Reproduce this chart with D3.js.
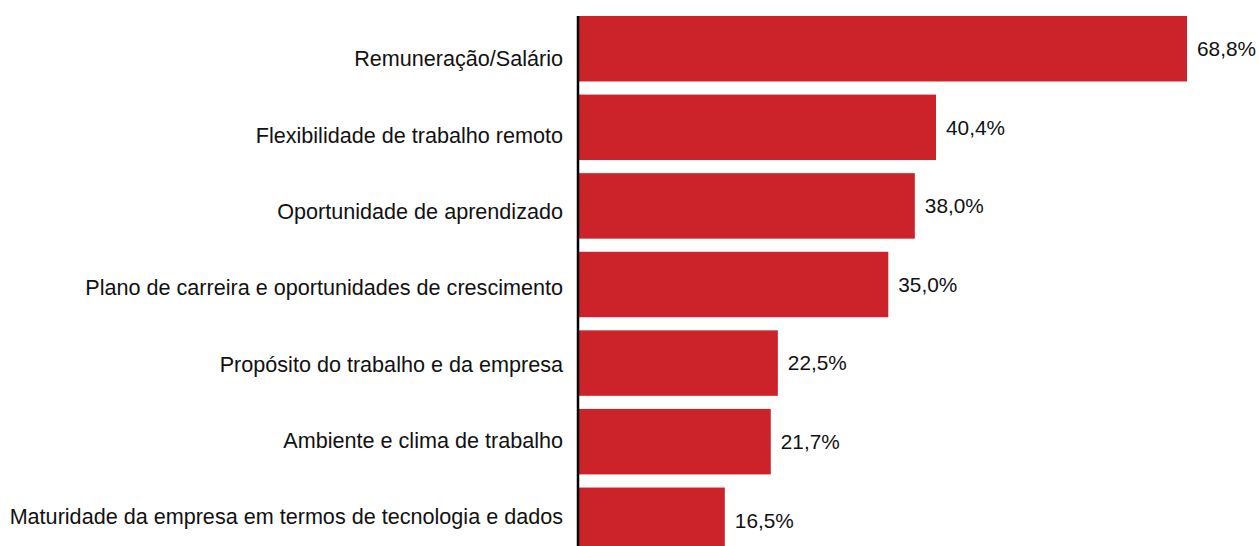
<!DOCTYPE html>
<html>
<head>
<meta charset="utf-8">
<script src="https://cdn.jsdelivr.net/npm/d3@7"></script>
<style>
  html, body { margin: 0; padding: 0; background: #fff; }
  svg { display: block; font-family: "Liberation Sans", Arial, sans-serif; }
</style>
</head>
<body>
<div id="chart"></div>
<script>
// data
const categories = [
  "Remuneração/Salário",
  "Flexibilidade de trabalho remoto",
  "Oportunidade de aprendizado",
  "Plano de carreira e oportunidades de crescimento",
  "Propósito do trabalho e da empresa",
  "Ambiente e clima de trabalho",
  "Maturidade da empresa em termos de tecnologia e dados"
];
const values = [68.8, 40.4, 38.0, 35.0, 22.5, 21.7, 16.5];

const width = 1259, height = 546;
const axisX = 578;
const fontSize = 21.6;

const svg = d3.select("#chart")
  .append("svg")
  .attr("width", width)
  .attr("height", height);

// x scale: 0..68.8% spans roughly 608px
const x = d3.scaleLinear()
  .domain([0, 68.8])
  .range([axisX + 1, 1187]);

const y = d3.scaleBand()
  .domain(categories)
  .range([16, 553])
  .paddingInner(0.167)
  .paddingOuter(0);

// the category labels sit on a slightly tighter spacing than the bars
const yLabel = d3.scalePoint()
  .domain(categories)
  .range([59, 517]);

const rows = categories.map((c, i) => ({ name: c, value: values[i] }));

// bars
svg.selectAll("rect.bar")
  .data(rows)
  .enter()
  .append("rect")
  .attr("class", "bar")
  .attr("x", x(0))
  .attr("y", d => y(d.name))
  .attr("width", d => x(d.value) - x(0))
  .attr("height", y.bandwidth())
  .attr("fill", "#cc2229");

// value labels
const fmt = v => v.toFixed(1).replace(".", ",") + "%";
svg.selectAll("text.val")
  .data(rows)
  .enter()
  .append("text")
  .attr("class", "val")
  .attr("x", d => x(d.value) + 10)
  .attr("y", d => y(d.name) + y.bandwidth() / 2)
  .attr("dy", "0.35em")
  .attr("font-size", 20.8)
  .attr("fill", "#111")
  .text(d => fmt(d.value));

// category labels on the left
const yAxis = svg.append("g")
  .attr("transform", "translate(" + axisX + ",0)")
  .call(d3.axisLeft(yLabel).tickSize(0).tickPadding(15));
yAxis.select(".domain").remove();
yAxis.selectAll("text")
  .attr("font-size", fontSize)
  .attr("font-family", "\"Liberation Sans\", Arial, sans-serif")
  .attr("fill", "#111");

// vertical baseline
svg.append("line")
  .attr("x1", axisX)
  .attr("x2", axisX)
  .attr("y1", y.range()[0])
  .attr("y2", height)
  .attr("stroke", "#000")
  .attr("stroke-width", 2.5);
</script>
</body>
</html>
